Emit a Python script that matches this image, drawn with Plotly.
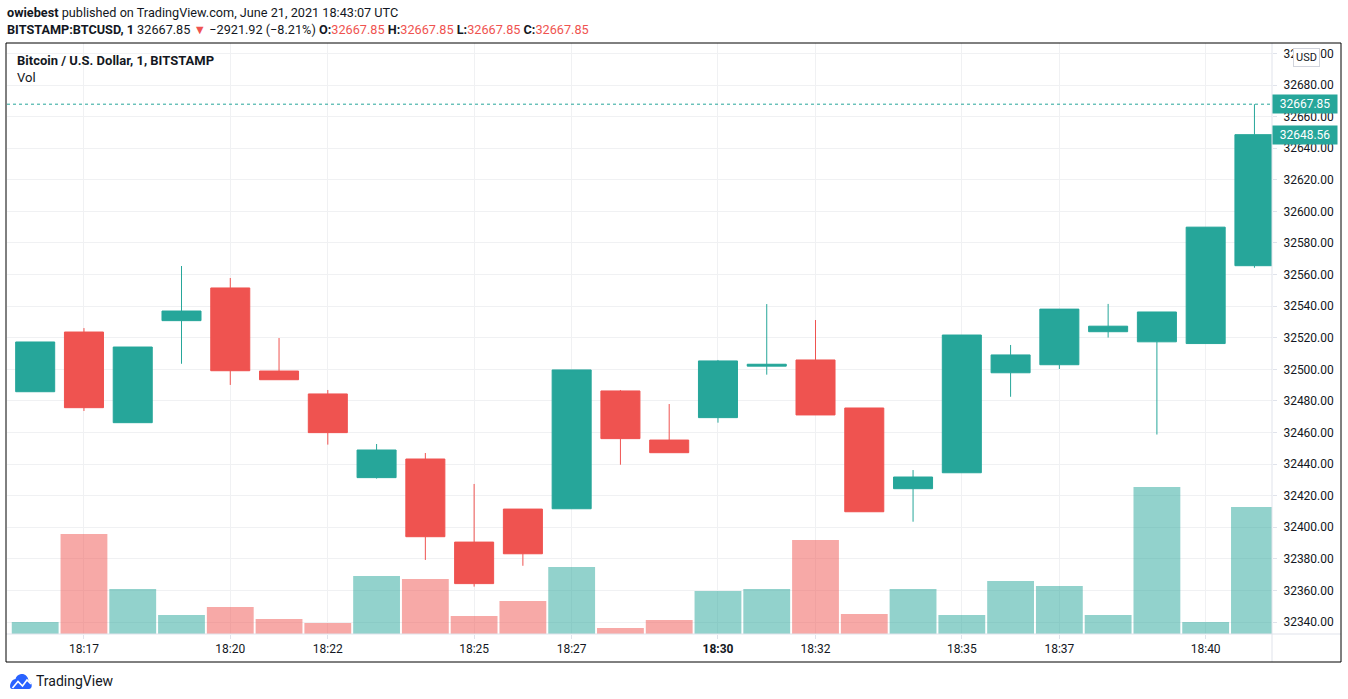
import plotly.graph_objects as go

# ---------------- data ----------------
times = ["18:16", "18:17", "18:18", "18:19", "18:20", "18:21", "18:22", "18:23", "18:24",
         "18:25", "18:26", "18:27", "18:28", "18:29", "18:30", "18:31", "18:32", "18:33",
         "18:34", "18:35", "18:36", "18:37", "18:38", "18:39", "18:40", "18:41"]
open_ = [32485.8, 32523.6, 32466.2, 32530.8, 32551.5, 32498.9, 32484.4, 32431.4, 32443.2,
         32390.6, 32411.5, 32411.7, 32486.3, 32455.2, 32469.4, 32502.0, 32505.9, 32475.5,
         32424.4, 32434.5, 32497.8, 32502.9, 32523.8, 32517.4, 32516.3, 32565.6]
high = [32517.3, 32526.1, 32514.1, 32565.4, 32557.8, 32519.8, 32486.9, 32452.7, 32447.0,
        32427.4, 32411.5, 32499.6, 32486.9, 32478.0, 32505.9, 32541.3, 32531.2, 32475.5,
        32436.2, 32521.7, 32515.4, 32538.1, 32541.4, 32536.3, 32590.0, 32667.85]
low = [32485.8, 32473.6, 32466.2, 32503.5, 32490.1, 32493.4, 32452.3, 32430.8, 32379.3,
       32362.4, 32375.6, 32411.7, 32439.6, 32447.2, 32466.2, 32496.6, 32471.1, 32409.8,
       32403.5, 32434.5, 32482.6, 32500.2, 32520.1, 32458.7, 32516.3, 32564.3]
close = [32517.3, 32475.7, 32514.1, 32536.9, 32499.1, 32493.4, 32459.9, 32448.9, 32394.0,
         32364.3, 32383.2, 32499.6, 32456.1, 32447.2, 32505.3, 32503.2, 32471.1, 32409.8,
         32431.8, 32521.7, 32509.1, 32538.1, 32527.3, 32536.3, 32590.0, 32648.56]
volume = [1.2, 10.0, 4.5, 1.9, 2.7, 1.5, 1.1, 5.8, 5.5, 1.8, 3.3, 6.7, 0.6, 1.4, 4.3, 4.5,
          9.4, 2.0, 4.5, 1.9, 5.3, 4.8, 1.9, 14.7, 1.2, 12.7]

tick_times = ["18:17", "18:20", "18:22", "18:25", "18:27", "18:30", "18:32", "18:35", "18:37", "18:40"]
tick_text = ["18:17", "18:20", "18:22", "18:25", "18:27", "<b>18:30</b>", "18:32", "18:35", "18:37", "18:40"]
price_ticks = [32340, 32360, 32380, 32400, 32420, 32440, 32460, 32480, 32500, 32520, 32540,
               32560, 32580, 32600, 32620, 32640, 32660, 32680, 32700]
last_price = 32667.85
close_price = 32648.56

# ---------------- style ----------------
UP = "#26a69a"
DOWN = "#ef5350"
UP_VOL = "rgba(38,166,154,0.5)"
DOWN_VOL = "rgba(239,83,80,0.5)"
GRID = "#f0f1f3"
SEP = "#e0e3eb"
TXT = "#131722"
FONT = "Roboto, 'Open Sans', sans-serif"

W, H = 1348, 699
L, R, T, B = 7, 1272, 43, 634  # plot area in pixels


def X(px):
    return (px - L) / (R - L)


def Y(py):
    return (B - py) / (B - T)


vol_colors = [UP_VOL if c >= o else DOWN_VOL for o, c in zip(open_, close)]

fig = go.Figure()
fig.add_trace(go.Bar(x=times, y=volume, marker=dict(color=vol_colors, line=dict(width=0)),
                     width=0.96, yaxis="y", hoverinfo="skip"))
fig.add_trace(go.Candlestick(x=times, open=open_, high=high, low=low, close=close, yaxis="y2",
                             increasing=dict(line=dict(color=UP, width=1), fillcolor=UP),
                             decreasing=dict(line=dict(color=DOWN, width=1), fillcolor=DOWN),
                             whiskerwidth=0))

fig.update_layout(
    width=W, height=H,
    margin=dict(l=L, r=W - R, t=T, b=H - B, pad=0),
    paper_bgcolor="white", plot_bgcolor="white",
    showlegend=False,
    boxgap=0.2, boxgroupgap=0, bargap=0.04,
    font=dict(family=FONT, color=TXT, size=12),
    xaxis=dict(type="category", range=[-0.578, 25.36], rangeslider=dict(visible=False),
               tickmode="array", tickvals=tick_times, ticktext=tick_text,
               showgrid=True, gridcolor=GRID, gridwidth=1,
               ticks="outside", ticklen=4, tickcolor=SEP, showline=False, zeroline=False,
               tickfont=dict(size=12, color=TXT)),
    yaxis=dict(range=[0, 59.1], visible=False, fixedrange=True),
    yaxis2=dict(overlaying="y", side="right", range=[32332.4, 32706.6],
                tickmode="array", tickvals=price_ticks, tickformat=".2f",
                showgrid=True, gridcolor=GRID, gridwidth=1, zeroline=False,
                ticks="outside", ticklen=4, tickcolor=SEP, showline=False,
                ticklabelstandoff=4, tickfont=dict(size=12, color=TXT)),
)

shapes = []
# separators
shapes.append(dict(type="line", xref="paper", yref="paper", x0=X(R), x1=X(R), y0=Y(662), y1=Y(43),
                   line=dict(color=SEP, width=1)))
shapes.append(dict(type="line", xref="paper", yref="paper", x0=X(6), x1=X(1341), y0=Y(B), y1=Y(B),
                   line=dict(color=SEP, width=1)))
# outer frame
shapes.append(dict(type="rect", xref="paper", yref="paper", x0=X(6), x1=X(1341), y0=Y(662), y1=Y(43),
                   line=dict(color="#000000", width=1), fillcolor="rgba(0,0,0,0)"))
# last price dotted line
shapes.append(dict(type="line", xref="paper", yref="y2", x0=0, x1=1, y0=last_price, y1=last_price,
                   line=dict(color=UP, width=1, dash="dot")))
# TradingView logo (cloud)
cloud = (f"M {X(12)},{Y(689)} L {X(29)},{Y(689)} "
         f"C {X(32.5)},{Y(689)} {X(33)},{Y(682.5)} {X(28.5)},{Y(681.5)} "
         f"C {X(28.5)},{Y(676)} {X(24.5)},{Y(673.5)} {X(21)},{Y(674)} "
         f"C {X(18)},{Y(674.5)} {X(16)},{Y(676.5)} {X(15.5)},{Y(679)} "
         f"C {X(10.5)},{Y(679)} {X(8)},{Y(689)} {X(12)},{Y(689)} Z")
shapes.append(dict(type="path", xref="paper", yref="paper", path=cloud,
                   fillcolor="#2962ff", line=dict(width=0)))
zig = (f"M {X(12.5)},{Y(688)} L {X(18)},{Y(681.5)} L {X(22.5)},{Y(686)} L {X(27)},{Y(680)} L {X(31)},{Y(684)}")
shapes.append(dict(type="path", xref="paper", yref="paper", path=zig,
                   line=dict(color="white", width=1.6)))
fig.update_layout(shapes=shapes)

ann = []
ann.append(dict(xref="paper", yref="paper", x=X(5), y=Y(12), xanchor="left", yanchor="middle",
                showarrow=False, align="left", font=dict(size=12.7, color=TXT),
                text="<b>owiebest</b> published on TradingView.com, June 21, 2021 18:43:07 UTC"))
red = '<span style="color:#ef5350">'
ann.append(dict(xref="paper", yref="paper", x=X(5), y=Y(29), xanchor="left", yanchor="middle",
                showarrow=False, align="left", font=dict(size=12.7, color=TXT),
                text=("<b>BITSTAMP:BTCUSD, 1</b> 32667.85 " + red + "▼</span> −2921.92 (−8.21%) "
                      "<b>O:</b>" + red + "32667.85</span> <b>H:</b>" + red + "32667.85</span> "
                      "<b>L:</b>" + red + "32667.85</span> <b>C:</b>" + red + "32667.85</span>")))
ann.append(dict(xref="paper", yref="paper", x=X(15), y=Y(60), xanchor="left", yanchor="middle",
                showarrow=False, font=dict(size=13, color=TXT),
                text="<b>Bitcoin / U.S. Dollar, 1, BITSTAMP</b>"))
ann.append(dict(xref="paper", yref="paper", x=X(15), y=Y(77), xanchor="left", yanchor="middle",
                showarrow=False, font=dict(size=13, color=TXT), text="Vol"))
for p in (last_price, close_price):
    ann.append(dict(xref="paper", yref="y2", x=1, y=p, xanchor="left", yanchor="middle",
                    showarrow=False, text=f"{p:.2f}", bgcolor=UP, width=60, height=14,
                    borderpad=2, font=dict(size=12, color="white"), align="center"))
ann.append(dict(xref="paper", yref="paper", x=X(1306), y=Y(58), xanchor="center", yanchor="middle",
                showarrow=False, text="USD", bgcolor="white", bordercolor="#d1d4dc", borderwidth=1,
                borderpad=2, font=dict(size=11, color=TXT)))
ann.append(dict(xref="paper", yref="paper", x=X(34), y=Y(681), xanchor="left", yanchor="middle",
                showarrow=False, text="TradingView", font=dict(size=14, color=TXT)))
fig.update_layout(annotations=ann)

fig.write_html("out.html")
